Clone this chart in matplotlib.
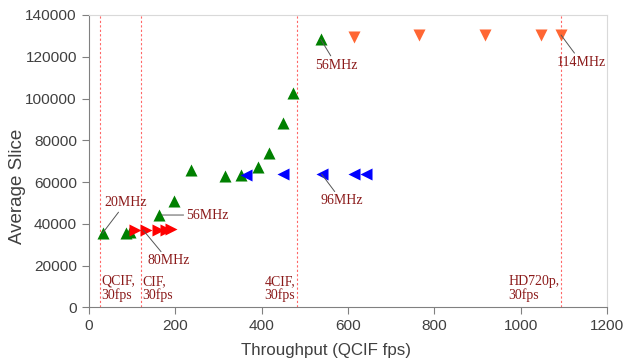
import matplotlib
matplotlib.use('Agg')
import matplotlib.pyplot as plt

# throughput (QCIF fps) vs average slice
green_x = [32, 86, 95, 163, 198, 236, 315, 352, 391, 417, 450, 473, 537]
green_y = [35500, 35500, 36000, 44200, 50900, 65700, 62900, 63600, 67300, 74000, 88100, 102800, 128300]

red_x = [108, 132, 160, 180, 190]
red_y = [36800, 36800, 37000, 37200, 37300]

blue_x = [365, 450, 539, 614, 642]
blue_y = [63300, 64000, 63800, 64000, 64000]

orange_x = [615, 765, 917, 1046, 1093]
orange_y = [129300, 130200, 130200, 130400, 130400]

# resolution limits (vertical dashed lines)
limit_x = [25, 120, 482, 1093]
limit_labels = ['QCIF,\n30fps', 'CIF,\n30fps', '4CIF,\n30fps', 'HD720p,\n30fps']
limit_side = ['right', 'right', 'left', 'left']

# frequency annotations: (label, point, text position)
notes = [
    ('20MHz', (32, 35500), (36, 50000)),
    ('56MHz', (170, 44200), (226, 44200)),
    ('80MHz', (126, 37000), (136, 22200)),
    ('56MHz', (537, 128300), (524, 116000)),
    ('96MHz', (539, 63800), (536, 51000)),
    ('114MHz', (1093, 130400), (1083, 117300)),
]

fig = plt.figure(figsize=(6.26, 3.63), dpi=100)
ax = fig.add_axes([0.1417, 0.1534, 0.8284, 0.8053])

dark_red = '#8b1a1a'
serif = 'Liberation Serif'

for xv, lab, side in zip(limit_x, limit_labels, limit_side):
    ax.axvline(xv, color='#ff6666', lw=0.8, ls=(0, (2, 2)), zorder=1)
    if side == 'right':
        ax.text(xv + 4, 2500, lab, color=dark_red, family=serif, fontsize=10,
                ha='left', va='bottom', linespacing=1.05)
    else:
        ax.text(xv - 4, 2500, lab, color=dark_red, family=serif, fontsize=10,
                ha='right', va='bottom', multialignment='left', linespacing=1.05)

ax.scatter(green_x, green_y, marker='^', s=75, color='#008000', zorder=3, lw=0)
ax.scatter(red_x, red_y, marker='>', s=75, color='#ff0000', zorder=3, lw=0)
ax.scatter(blue_x, blue_y, marker='<', s=75, color='#0000ff', zorder=3, lw=0)
ax.scatter(orange_x, orange_y, marker='v', s=75, color='#ff6633', zorder=3, lw=0)

for lab, pt, tpos in notes:
    ax.annotate(lab, xy=pt, xytext=tpos, color=dark_red, family=serif,
                fontsize=10, ha='left', va='center',
                arrowprops=dict(arrowstyle='-', color='#555555', lw=0.7,
                                shrinkA=0, shrinkB=0), zorder=4)

ax.set_xlim(0, 1200)
ax.set_ylim(0, 140000)
ax.set_xticks(range(0, 1201, 200))
ax.set_yticks(range(0, 140001, 20000))

for side in ['left', 'bottom']:
    ax.spines[side].set_color('#808080')
for side in ['top', 'right']:
    ax.spines[side].set_color('#d9d9d9')
ax.tick_params(colors='#808080', labelcolor='#404040', labelsize=11.1, length=5,
               top=False, right=False)
for t in ax.get_xticklabels() + ax.get_yticklabels():
    t.set_family('Liberation Sans')

ax.set_xlabel('Throughput (QCIF fps)', fontsize=12.2, color='#404040',
              family='Liberation Sans')
ax.set_ylabel('Average Slice', fontsize=13.5, color='#404040',
              family='Liberation Sans')
ax.xaxis.set_label_coords(0.4585, -0.122)
ax.yaxis.set_label_coords(-0.121, 0.413)

fig.savefig('out.png', dpi=100)
